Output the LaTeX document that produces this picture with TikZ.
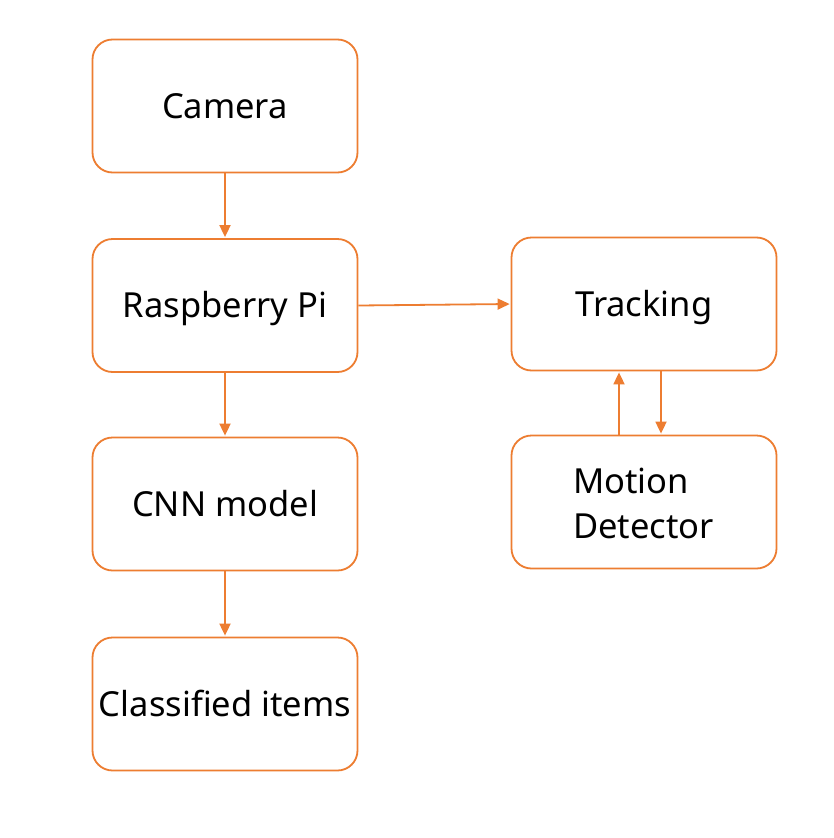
\documentclass[tikz,border=0pt]{standalone}
\usepackage{fontspec}
\setmainfont{Noto Sans}
\usetikzlibrary{arrows.meta,calc}
\definecolor{boxorange}{HTML}{ED7D31}
\tikzset{
  box/.style={draw=boxorange, line width=1.8pt, rounded corners=20pt, fill=white,
    minimum width=265pt, minimum height=133pt, inner sep=0pt,
    font=\fontsize{34.5}{45}\selectfont, text height=24.6pt, text depth=0pt},
  conn/.style={draw=boxorange, line width=1.8pt, -{Triangle[length=12pt,width=11pt]}, shorten >=1pt},
  lbl/.style={font=\fontsize{34.5}{45}\selectfont, align=left, inner sep=0pt}
}
\begin{document}
\begin{tikzpicture}[x=1pt,y=-1pt]
\useasboundingbox (0,0) rectangle (834,838);
\fill[white] (0,0) rectangle (834,838);
\node[box] (cam) at (225,106) {Camera};
\node[box] (rpi) at (225,305.5) {Raspberry Pi};
\node[box] (cnn) at (225,504) {CNN model};
\node[box] (cls) at (225,704) {Classified items};
\node[box] (trk) at (644,304) {Tracking};
\node[box] (mot) at (644,502) {};
\node[lbl, anchor=base west] (mottxt) at (573,538) {Motion\\Detector};
\draw[conn] (cam) -- (rpi);
\draw[conn] (rpi) -- (cnn);
\draw[conn] (cnn) -- (cls);
\draw[conn] (rpi.east) -- (trk.west);
\coordinate (upb) at ($(mot.north)+(-25,0)$);
\coordinate (upt) at ($(trk.south)+(-25,0)$);
\coordinate (dnt) at ($(trk.south)+(17,0)$);
\coordinate (dnb) at ($(mot.north)+(17,0)$);
\draw[conn] (upb) -- (upt);
\draw[conn] (dnt) -- (dnb);
\end{tikzpicture}
\end{document}
